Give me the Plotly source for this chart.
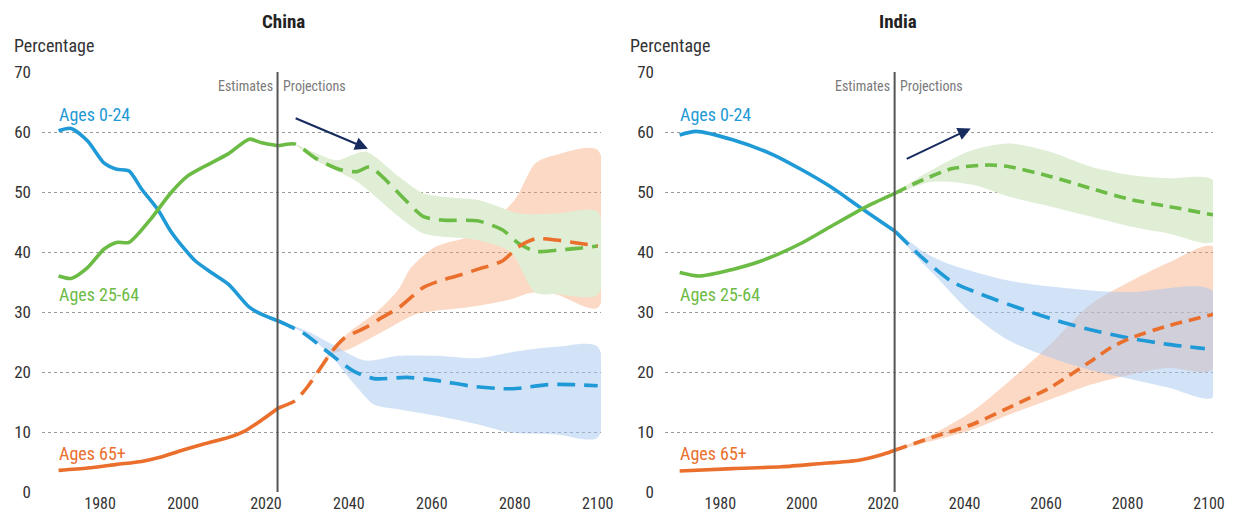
"""Population shares by age group, China vs India, estimates and projections."""

import plotly.graph_objects as go

PALETTE = {
    "blue": "#1f9ad6",
    "green": "#6cbb45",
    "orange": "#ea6f2d",
    "blue_band": "rgba(165,198,240,0.5)",
    "orange_band": "rgba(245,160,110,0.4)",
    "green_band": "#e0eed6",
    "arrow": "#172b5e",
    "text": "#333333",
    "muted": "#7a7a7a",
    "grid": "#9a9a9a",
}
FONT = "Liberation Sans Narrow, Roboto Condensed, DejaVu Sans Condensed, Roboto, sans-serif"

# the page body has an 8px margin on every side, so the figure is shrunk to fit the window
OFFSET = 8
W, H = 1235 - 2 * OFFSET, 525 - 2 * OFFSET

TICK_YEARS = [1980, 2000, 2020, 2040, 2060, 2080, 2100]
TICK_PCT = [0, 10, 20, 30, 40, 50, 60, 70]
SPLIT_YEAR = 2022.8

# ---- China ----
cn_young_est_x = [1970, 1973, 1977, 1981, 1984, 1987, 1990, 1994, 1997, 2000, 2003, 2007, 2011, 2016, 2019, 2023]
cn_young_est_y = [60.2, 60.6, 58.5, 54.8, 53.8, 53.5, 50.5, 47.0, 43.5, 40.8, 38.5, 36.5, 34.6, 30.8, 29.6, 28.5]
cn_young_proj_x = [2023, 2029, 2035, 2041, 2046, 2054, 2061, 2070, 2078, 2081, 2088, 2094, 2100]
cn_young_proj_y = [28.5, 26.5, 23.3, 20.2, 18.9, 19.1, 18.6, 17.6, 17.2, 17.3, 17.9, 17.9, 17.7]
cn_young_hi_x = [2023, 2030, 2036, 2044, 2052, 2061, 2071, 2081, 2090, 2100]
cn_young_hi_y = [28.5, 26.8, 24.6, 21.9, 22.7, 22.7, 22.3, 23.5, 24.2, 24.2]
cn_young_lo_x = [2023, 2030, 2036, 2042, 2046, 2052, 2061, 2071, 2079, 2090, 2100]
cn_young_lo_y = [28.5, 26.2, 22.4, 17.4, 14.6, 13.8, 12.7, 11.3, 9.9, 9.6, 9.1]

cn_work_est_x = [1970, 1973, 1977, 1981, 1984, 1987, 1992, 1997, 2001, 2005, 2011, 2016, 2019, 2023]
cn_work_est_y = [36.0, 35.6, 37.4, 40.5, 41.6, 41.6, 45.3, 49.8, 52.6, 54.2, 56.4, 58.8, 58.2, 57.7]
cn_work_proj_x = [2023, 2027, 2032, 2038, 2042, 2045, 2048, 2054, 2058, 2063, 2071, 2077, 2081, 2085, 2090, 2095, 2100]
cn_work_proj_y = [57.7, 58.0, 55.6, 53.7, 53.4, 54.2, 52.6, 48.4, 45.9, 45.3, 45.2, 43.7, 41.4, 40.1, 40.3, 40.6, 41.0]
cn_work_hi_x = [2027, 2032, 2037, 2044, 2052, 2058, 2066, 2071, 2076, 2081, 2090, 2100]
cn_work_hi_y = [58.0, 56.5, 55.3, 56.7, 52.6, 49.8, 49.0, 48.7, 47.6, 46.4, 46.4, 46.7]
cn_work_lo_x = [2027, 2032, 2042, 2052, 2058, 2071, 2079, 2085, 2090, 2100]
cn_work_lo_y = [58.0, 55.3, 51.7, 45.9, 43.1, 42.0, 40.0, 33.2, 33.0, 32.9]

cn_old_est_x = [1970, 1977, 1984, 1990, 1994, 2000, 2005, 2011, 2015, 2019, 2023]
cn_old_est_y = [3.6, 4.0, 4.6, 5.1, 5.7, 7.0, 8.0, 9.1, 10.2, 12.0, 14.0]
cn_old_proj_x = [2023, 2027, 2030, 2033, 2036, 2039, 2044, 2048, 2052, 2058, 2062, 2066, 2071, 2077, 2081, 2085, 2090, 2095, 2100]
cn_old_proj_y = [14.0, 15.2, 17.5, 20.5, 23.5, 25.7, 27.4, 29.1, 30.7, 34.1, 35.2, 36.0, 37.1, 38.5, 40.9, 42.2, 42.0, 41.5, 41.0]
cn_old_hi_x = [2030, 2036, 2040, 2047, 2052, 2055, 2061, 2071, 2080, 2085, 2090, 2100]
cn_old_hi_y = [17.5, 24.0, 26.6, 30.2, 33.8, 37.4, 40.9, 43.1, 48.7, 54.8, 56.2, 57.0]
cn_old_lo_x = [2030, 2036, 2040, 2047, 2056, 2061, 2071, 2079, 2084, 2090, 2100]
cn_old_lo_y = [17.5, 23.0, 23.8, 26.3, 29.6, 30.2, 31.0, 32.1, 33.2, 32.9, 30.7]

# ---- India ----
in_young_est_x = [1970, 1974, 1983, 1993, 2000, 2007, 2014, 2020, 2023]
in_young_est_y = [59.5, 60.1, 58.7, 56.2, 53.7, 50.9, 47.6, 44.8, 43.4]
in_young_proj_x = [2023, 2030, 2037, 2045, 2054, 2064, 2073, 2080, 2090, 2099]
in_young_proj_y = [43.4, 38.8, 35.0, 32.7, 30.5, 28.3, 26.7, 25.7, 24.6, 23.9]
in_young_hi_x = [2023, 2030, 2035, 2051, 2071, 2081, 2101]
in_young_hi_y = [43.4, 40.0, 38.3, 35.2, 33.6, 33.3, 33.5]
in_young_lo_x = [2023, 2030, 2032, 2042, 2051, 2061, 2071, 2081, 2090, 2101]
in_young_lo_y = [43.4, 37.9, 36.6, 29.6, 25.2, 22.4, 20.3, 18.8, 17.4, 15.8]

in_work_est_x = [1970, 1975, 1983, 1990, 2000, 2007, 2016, 2023]
in_work_est_y = [36.6, 36.0, 37.1, 38.5, 41.5, 44.2, 47.6, 49.8]
in_work_proj_x = [2023, 2028, 2037, 2046, 2051, 2061, 2071, 2081, 2090, 2101]
in_work_proj_y = [49.8, 51.5, 53.9, 54.5, 54.2, 52.6, 50.6, 48.7, 47.6, 46.2]
in_work_hi_x = [2023, 2032, 2042, 2051, 2061, 2071, 2081, 2090, 2101]
in_work_hi_y = [49.8, 53.7, 57.0, 58.1, 56.7, 54.2, 52.8, 52.3, 52.0]
in_work_lo_x = [2023, 2032, 2042, 2051, 2061, 2071, 2081, 2090, 2101]
in_work_lo_y = [49.8, 51.7, 51.2, 49.2, 47.6, 45.9, 44.2, 43.1, 41.7]

in_old_est_x = [1970, 1983, 1995, 2004, 2014, 2020, 2023]
in_old_est_y = [3.5, 3.9, 4.2, 4.7, 5.3, 6.3, 7.0]
in_old_proj_x = [2023, 2032, 2042, 2051, 2061, 2071, 2076, 2081, 2090, 2101]
in_old_proj_y = [7.0, 9.1, 11.3, 14.1, 17.4, 21.8, 24.1, 25.7, 27.7, 29.6]
in_old_hi_x = [2023, 2032, 2042, 2051, 2061, 2071, 2081, 2090, 2101]
in_old_hi_y = [7.0, 9.6, 13.5, 18.5, 24.6, 31.3, 35.2, 38.2, 40.9]
in_old_lo_x = [2023, 2032, 2042, 2051, 2061, 2071, 2081, 2090, 2101]
in_old_lo_y = [7.0, 8.5, 10.4, 12.9, 15.4, 17.9, 19.6, 20.7, 20.4]

# arrows: (tail year, tail pct, head year, head pct)
cn_arrow = [2026.8, 62.4, 2044.6, 57.2]
in_arrow = [2025.4, 55.4, 2041.5, 60.6]

GROUP_LABELS = ["Ages 0-24", "Ages 25-64", "Ages 65+"]
GROUP_LABEL_Y = [63.0, 33.0, 6.4]


def px(x):
    """Screen pixel -> paper fraction."""
    return (x - OFFSET) / W


def py(y):
    return 1 - (y - OFFSET) / H


def band(fig, hi_x, hi_y, lo_x, lo_y, color, xa, ya):
    fig.add_trace(
        go.Scatter(
            x=hi_x + lo_x[::-1],
            y=hi_y + lo_y[::-1],
            fill="toself",
            fillcolor=color,
            line={"width": 0, "shape": "spline", "smoothing": 0.8},
            mode="lines",
            hoverinfo="skip",
            showlegend=False,
            xaxis=xa,
            yaxis=ya,
        )
    )


def line(fig, x, y, color, dash, xa, ya):
    fig.add_trace(
        go.Scatter(
            x=x,
            y=y,
            mode="lines",
            line={"color": color, "width": 3.6, "dash": dash, "shape": "spline", "smoothing": 0.7},
            showlegend=False,
            xaxis=xa,
            yaxis=ya,
        )
    )


fig = go.Figure()

panels = [
    ("x", "y",
     (cn_young_est_x, cn_young_est_y, cn_young_proj_x, cn_young_proj_y, cn_young_hi_x, cn_young_hi_y, cn_young_lo_x, cn_young_lo_y),
     (cn_work_est_x, cn_work_est_y, cn_work_proj_x, cn_work_proj_y, cn_work_hi_x, cn_work_hi_y, cn_work_lo_x, cn_work_lo_y),
     (cn_old_est_x, cn_old_est_y, cn_old_proj_x, cn_old_proj_y, cn_old_hi_x, cn_old_hi_y, cn_old_lo_x, cn_old_lo_y),
     cn_arrow, ("18px,9px", "18px,9px", "18px,9px")),
    ("x2", "y2",
     (in_young_est_x, in_young_est_y, in_young_proj_x, in_young_proj_y, in_young_hi_x, in_young_hi_y, in_young_lo_x, in_young_lo_y),
     (in_work_est_x, in_work_est_y, in_work_proj_x, in_work_proj_y, in_work_hi_x, in_work_hi_y, in_work_lo_x, in_work_lo_y),
     (in_old_est_x, in_old_est_y, in_old_proj_x, in_old_proj_y, in_old_hi_x, in_old_hi_y, in_old_lo_x, in_old_lo_y),
     in_arrow, ("18px,9px", "12px,7px", "12px,7px")),
]

for xa, ya, young, work, old, arrow, dashes in panels:
    band(fig, old[4], old[5], old[6], old[7], PALETTE["orange_band"], xa, ya)
    band(fig, young[4], young[5], young[6], young[7], PALETTE["blue_band"], xa, ya)
    band(fig, work[4], work[5], work[6], work[7], PALETTE["green_band"], xa, ya)
    for series, color, dash in zip((young, work, old), ("blue", "green", "orange"), dashes):
        line(fig, series[0], series[1], PALETTE[color], "solid", xa, ya)
        line(fig, series[2], series[3], PALETTE[color], dash, xa, ya)

    fig.add_shape(type="line", x0=SPLIT_YEAR, x1=SPLIT_YEAR, y0=0, y1=70, xref=xa, yref=ya,
                  line={"color": "#555555", "width": 2})
    fig.add_annotation(x=SPLIT_YEAR, y=67.6, xref=xa, yref=ya, text="Estimates", showarrow=False,
                       xanchor="right", xshift=-3, font={"size": 14, "color": PALETTE["muted"], "family": FONT})
    fig.add_annotation(x=SPLIT_YEAR, y=67.6, xref=xa, yref=ya, text="Projections", showarrow=False,
                       xanchor="left", xshift=3, font={"size": 14, "color": PALETTE["muted"], "family": FONT})
    for text, y, color in zip(GROUP_LABELS, GROUP_LABEL_Y, ("blue", "green", "orange")):
        fig.add_annotation(x=1969.5, y=y, xref=xa, yref=ya, text=text, showarrow=False, xanchor="left",
                           font={"size": 18, "color": PALETTE[color], "family": FONT})
    fig.add_annotation(x=arrow[2], y=arrow[3], ax=arrow[0], ay=arrow[1], xref=xa, yref=ya,
                       axref=xa, ayref=ya, showarrow=True, arrowhead=2, arrowsize=1.3, arrowwidth=2,
                       arrowcolor=PALETTE["arrow"], text="")

# titles and axis captions, placed in screen pixels
for cx, lx, title in [(283, 12, "China"), (898, 628, "India")]:
    fig.add_annotation(x=px(cx), y=py(21), xref="paper", yref="paper", text=f"<b>{title}</b>", showarrow=False,
                       xanchor="center", yanchor="middle", font={"size": 19, "color": "#222222", "family": FONT})
    fig.add_annotation(x=px(lx), y=py(45), xref="paper", yref="paper", text="Percentage", showarrow=False,
                       xanchor="left", yanchor="middle", font={"size": 18, "color": PALETTE["text"], "family": FONT})

axis_common = dict(
    showline=False, zeroline=False, ticks="", automargin=False,
    tickfont={"size": 17, "color": PALETTE["text"], "family": FONT},
)
xaxis_common = dict(axis_common, tickfont=dict(axis_common["tickfont"], size=16), showgrid=False,
                    tickvals=TICK_YEARS, ticklabelstandoff=0)
yaxis_common = dict(axis_common, range=[0, 70], tickvals=TICK_PCT, showgrid=True, gridcolor=PALETTE["grid"],
                    griddash="dot", gridwidth=1, ticklabelstandoff=10)
y_domain = [py(492), py(72)]

fig.update_layout(
    width=W,
    height=H,
    margin={"l": 0, "r": 0, "t": 0, "b": 0},
    paper_bgcolor="white",
    plot_bgcolor="white",
    showlegend=False,
    xaxis=dict(xaxis_common, domain=[px(42), px(601)], range=[1966.0, 2100.8], anchor="y"),
    yaxis=dict(yaxis_common, domain=y_domain, anchor="x"),
    xaxis2=dict(xaxis_common, domain=[px(665), px(1213)], range=[1966.4, 2101.0], anchor="y2"),
    yaxis2=dict(yaxis_common, domain=y_domain, anchor="x2"),
)

fig.write_html("out.html")
